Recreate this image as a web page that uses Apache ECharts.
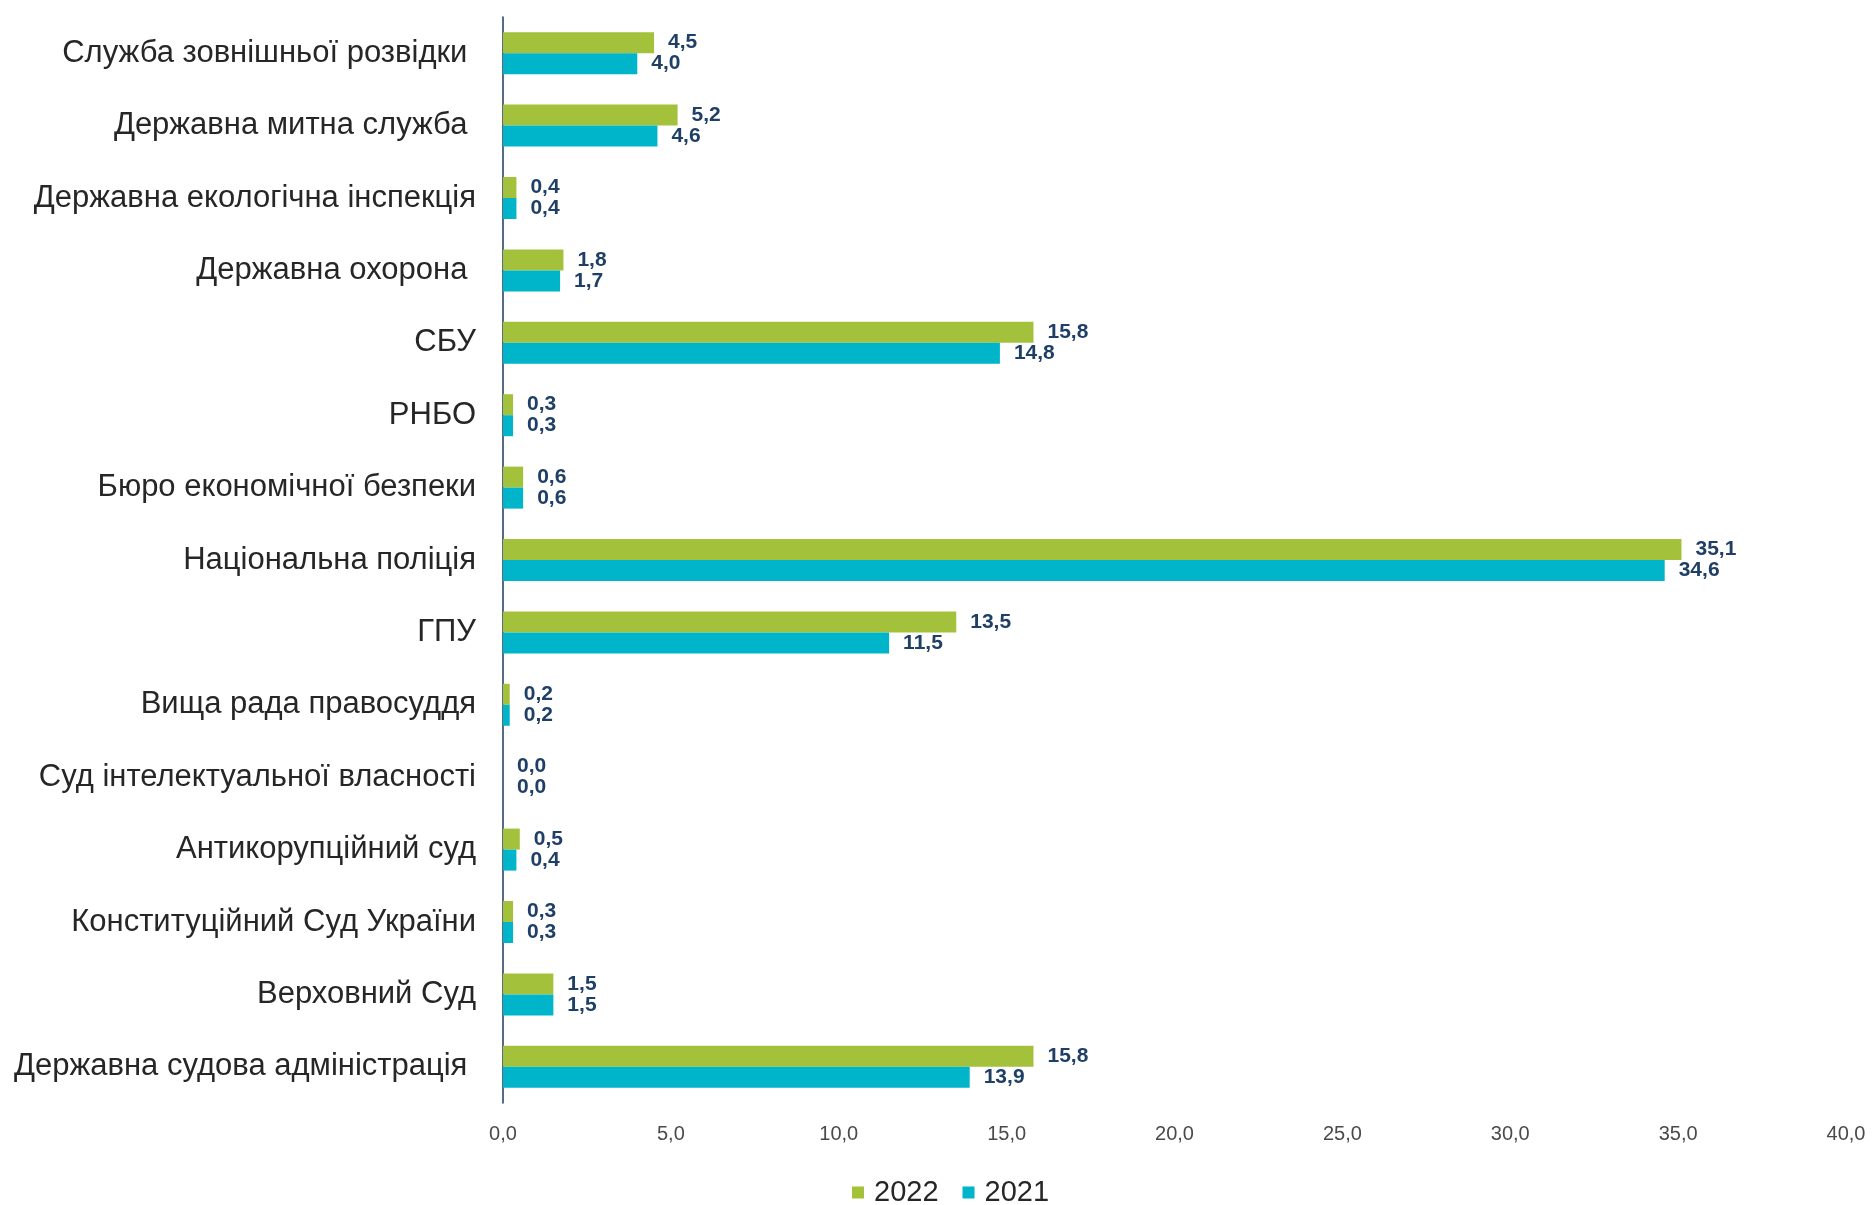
<!DOCTYPE html>
<html>
<head>
<meta charset="utf-8">
<script src="https://cdn.jsdelivr.net/npm/echarts@6/dist/echarts.min.js"></script>
<style>
html,body{margin:0;padding:0;background:#fff;}
#chart{width:1874px;height:1205px;}
</style>
</head>
<body>
<div id="chart"></div>
<script>
const categories = [
  'Служба зовнішньої розвідки ',
  'Державна митна служба ',
  'Державна екологічна інспекція',
  'Державна охорона ',
  'СБУ',
  'РНБО',
  'Бюро економічної безпеки',
  'Національна поліція',
  'ГПУ',
  'Вища рада правосуддя',
  'Суд інтелектуальної власності',
  'Антикорупційний суд',
  'Конституційний Суд України',
  'Верховний Суд',
  'Державна судова адміністрація '
];
const values2022 = [4.5, 5.2, 0.4, 1.8, 15.8, 0.3, 0.6, 35.1, 13.5, 0.2, 0.0, 0.5, 0.3, 1.5, 15.8];
const values2021 = [4.0, 4.6, 0.4, 1.7, 14.8, 0.3, 0.6, 34.6, 11.5, 0.2, 0.0, 0.4, 0.3, 1.5, 13.9];
const seriesNames = ['2022', '2021'];

const FONT = "'Liberation Sans', Arial, sans-serif";
const fmt = v => Number(v).toFixed(1).replace('.', ',');
const labelCfg = {
  show: true,
  position: 'right',
  distance: 14,
  color: '#1f3f66',
  fontWeight: 'bold',
  fontSize: 21,
  fontFamily: FONT,
  formatter: p => fmt(p.value)
};

const chart = echarts.init(document.getElementById('chart'), null, {renderer: 'canvas'});
chart.setOption({
  backgroundColor: '#ffffff',
  animation: false,
  grid: {left: 503, right: 28, top: 17, bottom: 102, containLabel: false},
  legend: {
    data: seriesNames,
    left: 847,
    top: 1173,
    itemWidth: 12,
    itemHeight: 12,
    itemGap: 24,
    icon: 'rect',
    textStyle: {fontSize: 29, color: '#262626', fontFamily: FONT, padding: [0, 0, 0, 5]}
  },
  xAxis: {
    type: 'value',
    min: 0,
    max: 40,
    interval: 5,
    axisLine: {show: false},
    axisTick: {show: false},
    splitLine: {show: false},
    axisLabel: {
      formatter: v => fmt(v),
      fontSize: 20,
      color: '#4a4a4a',
      fontFamily: FONT,
      margin: 21
    }
  },
  yAxis: {
    type: 'category',
    data: categories,
    inverse: true,
    axisLine: {show: true, lineStyle: {color: '#1f3a5a', width: 1.5}},
    axisTick: {show: false},
    axisLabel: {
      fontSize: 31,
      color: '#262626',
      fontFamily: FONT,
      margin: 27
    }
  },
  series: [
    {
      name: seriesNames[0],
      type: 'bar',
      data: values2022,
      barWidth: 21,
      barGap: '0%',
      itemStyle: {color: '#a3c13a'},
      label: labelCfg
    },
    {
      name: seriesNames[1],
      type: 'bar',
      data: values2021,
      barWidth: 21,
      barGap: '0%',
      itemStyle: {color: '#00b5c9'},
      label: labelCfg
    }
  ]
});
</script>
</body>
</html>
